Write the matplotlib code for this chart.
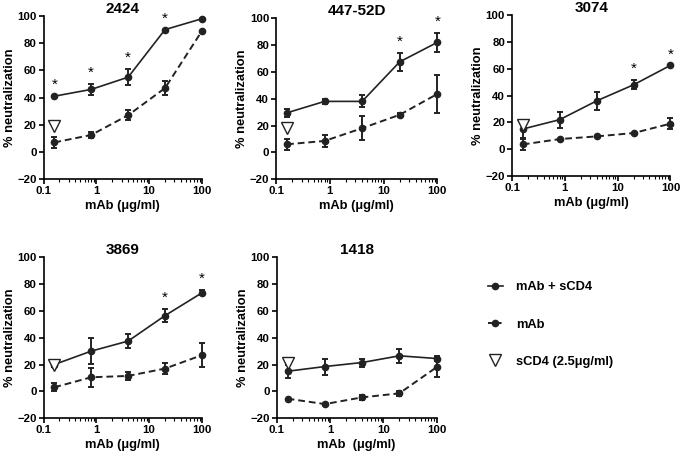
import matplotlib
matplotlib.use("Agg")
import matplotlib.pyplot as plt
from matplotlib.lines import Line2D

plt.rcParams['font.family'] = ['Liberation Sans', 'DejaVu Sans']
plt.rcParams['font.weight'] = 'bold'

conc = [0.16, 0.8, 4, 20, 100]

names = ["2424", "447-52D", "3074", "3869", "1418"]

combo = {
    "2424":    [41, 46, 55, 90, 98],
    "447-52D": [29.5, 38, 38, 67.5, 82],
    "3074":    [15, 22, 36, 48, 62.5],
    "3869":    [20, 30, 37.5, 56.5, 73.5],
    "1418":    [15, 18.5, 21.5, 26.5, 24.5],
}
combo_err = {
    "2424":    [0, 4, 6, 0, 0],
    "447-52D": [3, 2, 4.5, 6.5, 7],
    "3074":    [7, 6, 6.5, 3.5, 0],
    "3869":    [2, 9.5, 5, 5, 2],
    "1418":    [5, 6, 3, 5, 2],
}
mab = {
    "2424":    [7, 12.5, 27, 47, 89],
    "447-52D": [6, 8.5, 18, 28, 43.5],
    "3074":    [3.5, 7.5, 9.5, 12, 19],
    "3869":    [3, 10.5, 11.5, 17, 27],
    "1418":    [-5.5, -9.5, -4.5, -1.5, 18],
}
mab_err = {
    "2424":    [4, 2, 3.5, 5, 0],
    "447-52D": [4, 4.5, 9, 1.5, 14.5],
    "3074":    [4, 0, 0, 0, 4],
    "3869":    [3, 7, 3, 4, 9],
    "1418":    [0, 0, 2, 2, 7],
}
scd4 = {"2424": 19, "447-52D": 18, "3074": 18, "3869": 19.5, "1418": 21}
stars = {
    "2424": [0, 1, 2, 3],
    "447-52D": [3, 4],
    "3074": [3, 4],
    "3869": [3, 4],
    "1418": [],
}

positions = [
    [0.064, 0.608, 0.233, 0.357],
    [0.406, 0.608, 0.237, 0.352],
    [0.753, 0.615, 0.233, 0.352],
    [0.064, 0.085, 0.233, 0.352],
    [0.407, 0.085, 0.235, 0.352],
]

fig = plt.figure(figsize=(6.8, 4.57), dpi=100)

for name, pos in zip(names, positions):
    ax = fig.add_axes(pos)
    ax.errorbar(conc, mab[name], yerr=mab_err[name], color='#222222', ls=(0, (3.5, 2)),
                lw=1.4, marker='o', ms=4.5, capsize=2.5, elinewidth=1.4, capthick=1.4,
                clip_on=False, zorder=3)
    ax.errorbar(conc, combo[name], yerr=combo_err[name], color='#222222', ls='-',
                lw=1.2, marker='o', ms=4.5, capsize=2.5, elinewidth=1.4, capthick=1.4,
                clip_on=False, zorder=3)
    ax.plot([conc[0]], [scd4[name]], marker='v', ms=9, mfc='white', mec='#222222',
            mew=1.0, ls='none', clip_on=False, zorder=4)
    for i in stars[name]:
        ax.text(conc[i], combo[name][i] + combo_err[name][i] + 3, '*', ha='center',
                va='bottom', fontsize=11, fontweight='normal')
    ax.set_xscale('log')
    ax.set_xlim(0.1, 100)
    ax.set_ylim(-20, 100)
    ax.set_yticks(range(-20, 101, 20))
    ax.set_xticks([0.1, 1, 10, 100])
    ax.set_xticklabels(['0.1', '1', '10', '100'])
    ax.spines['top'].set_visible(False)
    ax.spines['right'].set_visible(False)
    for s in ['left', 'bottom']:
        ax.spines[s].set_linewidth(1.2)
    ax.tick_params(which='major', length=3.5, width=1.2, labelsize=8.2, pad=1.5)
    ax.tick_params(which='minor', length=2, width=0.8)
    ax.set_title(name, fontsize=11, fontweight='bold', pad=1)
    ax.set_ylabel('% neutralization', fontsize=9.3, fontweight='bold', labelpad=1)
    xl = 'mAb  (\u03bcg/ml)' if name == "1418" else 'mAb (\u03bcg/ml)'
    ax.set_xlabel(xl, fontsize=9.3, fontweight='bold', labelpad=3)

handles = [
    Line2D([], [], color='#222222', ls='-', lw=1.2, marker='o', ms=4.5),
    Line2D([], [], color='#222222', ls=(0, (2.5, 2)), lw=1.4, marker='o', ms=4.5),
    Line2D([], [], color='#222222', ls='none', marker='v', ms=9, mfc='white', mew=1.0),
]
labels = ['mAb + sCD4', 'mAb', 'sCD4 (2.5\u03bcg/ml)']
fig.legend(handles, labels, loc='upper left', bbox_to_anchor=(0.70, 0.41),
           frameon=False, handlelength=1.2, labelspacing=1.95, handletextpad=1.0,
           prop={'size': 9.3, 'weight': 'bold'})

fig.savefig('out.png', dpi=100)
